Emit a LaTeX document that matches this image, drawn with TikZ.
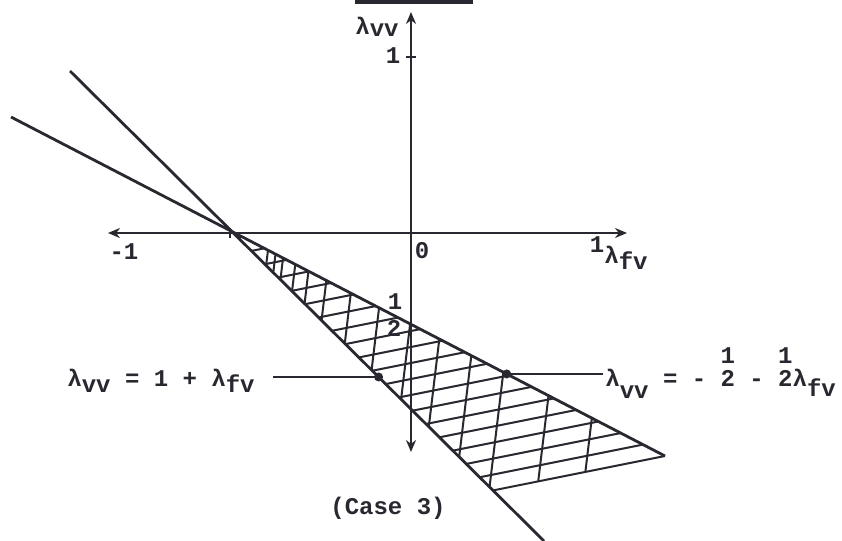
\documentclass[tikz,border=0pt]{standalone}
\usepackage{fontspec}
\setmainfont{Liberation Mono}
\usetikzlibrary{arrows.meta}
\definecolor{ink}{RGB}{40,40,48}
\newcommand{\lsub}[2][3pt]{λ\raisebox{-#1}{#2}}

\begin{document}
\begin{tikzpicture}[x=0.5pt,y=-0.5pt,
    lbl/.style={font=\fontsize{12}{14}\selectfont\bfseries,text=ink,inner sep=0pt},
    axis/.style={ink,line width=1.2pt,{Stealth[length=6pt,width=5pt]}-{Stealth[length=6pt,width=5pt]}},
    bound/.style={ink,line width=1.4pt},
    hatch/.style={ink,line width=1pt},
    lead/.style={ink,line width=0.8pt},
    dot/.style={circle,fill=ink,inner sep=0pt,minimum size=4.5pt}]
  \useasboundingbox (0,0) rectangle (842,541);
  \coordinate (A1) at (70,71); \coordinate (A2) at (544,541);
  \coordinate (B1) at (11,117); \coordinate (B2) at (665,456);
  \coordinate (C0) at (480,493);
  \coordinate (P) at (intersection of A1--A2 and B1--B2);
  \coordinate (C) at (intersection of A1--A2 and B2--C0);
  % cross hatching of the feasible wedge
  \begin{scope}
    \clip (P) -- (B2) -- (C) -- cycle;
    \foreach \c in {203,219,...,491} \draw[hatch] (200,\c+42.2) -- (700,\c-57.8);
    \foreach \k in {250,258,266,279,293,312,338,368,401,432,466,500,548,594}
      \draw[hatch] (\k+24,200) -- (\k-14.4,520);
  \end{scope}
  \draw[hatch] (B2) -- (C);
  \draw[bound] (A1) -- (A2);
  \draw[bound] (B1) -- (B2);
  % axes
  \coordinate (xL) at (108,233); \coordinate (xR) at (627,233);
  \coordinate (yT) at (411,12); \coordinate (yB) at (411,452);
  \draw[axis] (xL) -- (xR);
  \draw[axis] (yT) -- (yB);
  \draw[ink,line width=1.2pt] (230,228) -- (230,238);
  \draw[ink,line width=1.2pt] (406,57) -- (416,57);
  \draw[ink,line width=2pt] (355,2) -- (473,2);
  \node[lbl,anchor=base west] (ylab) at (355,34) {\lsub[1pt]{vv}};
  \node[lbl] (y1) at (393,56) {1};
  \node[lbl] (xm1) at (124,252) {-1};
  \node[lbl] (x0) at (422,251) {0};
  \node[lbl] (x1) at (597,245) {1};
  \node[lbl,anchor=base west] (xlab) at (604,263) {\lsub{fv}};
  \node[lbl] (h1) at (395,302) {1};
  \node[lbl] (h2) at (394,328) {2};
  % the two boundary lines
  \node[lbl,anchor=base west] (eqA) at (67,386) {\lsub{vv} = 1 + \lsub{fv}};
  \node[lbl,anchor=base west] (eqB) at (605,386) {\lsub[6pt]{vv} = - \shortstack{1\\2} - \shortstack{1\\2}\lsub[5pt]{fv}};
  \path (A1) -- (A2) coordinate[pos=0.651] (dA);
  \path (B1) -- (B2) coordinate[pos=0.758] (dB);
  \node[dot] (ptA) at (dA) {};
  \node[dot] (ptB) at (dB) {};
  \draw[lead,shorten <=9pt] (eqA.east |- ptA) -- (ptA.center);
  \draw[lead,shorten <=1pt] (eqB.west |- ptB) -- (ptB.center);
  \node[lbl] (case) at (388,508) {(Case 3)};
\end{tikzpicture}
\end{document}
